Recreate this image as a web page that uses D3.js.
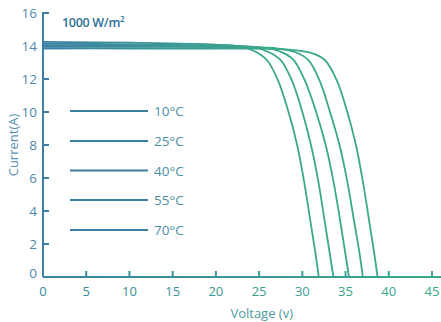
<!DOCTYPE html>
<html>
<head>
<meta charset="utf-8">
<script src="https://cdn.jsdelivr.net/npm/d3@7"></script>
<style>
  body { margin: 0; background: #fff; }
  svg { font-family: "Open Sans", Lato, sans-serif; }
</style>
</head>
<body>
<div id="vis"></div>
<script>
// Temperatures shown in the legend
const TEMPS = ["10°C", "25°C", "40°C", "55°C", "70°C"];

// I-V curves, [voltage, current]
const CURVE_10 = [[0,13.85],[10,13.85],[20,13.84],[28,13.8],[31,13.58],[32.6,13.15],[34.0,11.9],[35.2,10.0],[36.2,8.0],[37.0,5.8],[37.7,3.5],[38.3,1.5],[38.7,0]];
const CURVE_25 = [[0,13.95],[10,13.95],[20,13.93],[27,13.86],[29.2,13.62],[30.7,13.15],[32.0,11.9],[33.2,10.0],[34.3,8.0],[35.2,5.8],[35.95,3.5],[36.6,1.5],[37.0,0]];
const CURVE_40 = [[0,14.05],[10,14.03],[20,13.98],[25.5,13.9],[27.6,13.63],[29.0,13.15],[30.3,11.9],[31.6,10.0],[32.7,8.0],[33.6,5.8],[34.35,3.5],[34.95,1.5],[35.4,0]];
const CURVE_55 = [[0,14.15],[10,14.1],[20,14.03],[24.3,13.93],[26.1,13.64],[27.5,13.15],[28.8,11.9],[30.0,10.0],[31.0,8.0],[31.85,5.8],[32.55,3.5],[33.15,1.5],[33.6,0]];
const CURVE_70 = [[0,14.25],[10,14.2],[20,14.08],[23,13.95],[24.6,13.65],[25.9,13.15],[27.2,11.9],[28.4,10.0],[29.4,8.0],[30.2,5.8],[30.9,3.5],[31.5,1.5],[31.9,0]];
const CURVES = [CURVE_10, CURVE_25, CURVE_40, CURVE_55, CURVE_70];

const X_TICKS = [0, 5, 10, 15, 20, 25, 30, 35, 40, 45];
const Y_TICKS = [0, 2, 4, 6, 8, 10, 12, 14, 16];

const FRAME_WIDTH = 441;
const FRAME_HEIGHT = 322;
const MARGINS = {left: 43, top: 13, bottom: 45};

const BLUE = "#3b80a4";
const GREEN = "#3aa98a";

const svg = d3.select("#vis")
  .append("svg")
  .attr("width", FRAME_WIDTH)
  .attr("height", FRAME_HEIGHT);

// scales
const X_SCALE = d3.scaleLinear().domain([0, 45]).range([MARGINS.left, 432]);
const Y_SCALE = d3.scaleLinear().domain([0, 16]).range([FRAME_HEIGHT - MARGINS.bottom, MARGINS.top]);

// colour drift from blue (left) to green (right)
const mix = d3.interpolateRgb(BLUE, GREEN);
const colAt = (px) => mix(Math.min(1, px / FRAME_WIDTH));

const defs = svg.append("defs");
const grad = defs.append("linearGradient")
  .attr("id", "axisGrad")
  .attr("gradientUnits", "userSpaceOnUse")
  .attr("x1", 0).attr("x2", FRAME_WIDTH).attr("y1", 0).attr("y2", 0);
grad.append("stop").attr("offset", "0%").attr("stop-color", BLUE);
grad.append("stop").attr("offset", "100%").attr("stop-color", GREEN);

const curveGrad = defs.append("linearGradient")
  .attr("id", "curveGrad")
  .attr("gradientUnits", "userSpaceOnUse")
  .attr("x1", 40).attr("x2", 270).attr("y1", 0).attr("y2", 0);
curveGrad.append("stop").attr("offset", "0%").attr("stop-color", BLUE);
curveGrad.append("stop").attr("offset", "100%").attr("stop-color", GREEN);

// curves
const line = d3.line()
  .x(d => X_SCALE(d[0]))
  .y(d => Y_SCALE(d[1]))
  .curve(d3.curveCatmullRom.alpha(0.5));

svg.append("g").selectAll("path")
  .data(CURVES)
  .join("path")
  .attr("d", line)
  .attr("fill", "none")
  .attr("stroke", "url(#curveGrad)")
  .attr("stroke-width", 1.8);

// X axis
const y0 = Y_SCALE(0);
svg.append("line")
  .attr("x1", MARGINS.left).attr("x2", FRAME_WIDTH)
  .attr("y1", y0).attr("y2", y0)
  .attr("stroke", "url(#axisGrad)").attr("stroke-width", 2);

svg.append("g").selectAll("line")
  .data(X_TICKS.slice(1))
  .join("line")
  .attr("x1", d => X_SCALE(d)).attr("x2", d => X_SCALE(d))
  .attr("y1", y0).attr("y2", y0 - 6)
  .attr("stroke", d => colAt(X_SCALE(d))).attr("stroke-width", 2);

svg.append("g").selectAll("text")
  .data(X_TICKS)
  .join("text")
  .attr("x", d => X_SCALE(d))
  .attr("y", y0 + 19)
  .attr("text-anchor", "middle")
  .attr("font-size", "13px")
  .attr("fill", d => colAt(X_SCALE(d) + 30))
  .text(d => d);

// Y axis
svg.append("line")
  .attr("x1", MARGINS.left).attr("x2", MARGINS.left)
  .attr("y1", Y_SCALE(16) - 1).attr("y2", y0)
  .attr("stroke", BLUE).attr("stroke-width", 2);

svg.append("g").selectAll("line")
  .data(Y_TICKS.slice(1))
  .join("line")
  .attr("x1", MARGINS.left).attr("x2", MARGINS.left + 6)
  .attr("y1", d => Y_SCALE(d)).attr("y2", d => Y_SCALE(d))
  .attr("stroke", BLUE).attr("stroke-width", 2);

svg.append("g").selectAll("text")
  .data(Y_TICKS)
  .join("text")
  .attr("x", 37)
  .attr("y", d => d === 0 ? Y_SCALE(d) + 1 : Y_SCALE(d) + 5)
  .attr("text-anchor", "end")
  .attr("font-size", "13.5px")
  .attr("fill", "#4f88ab")
  .text(d => d);

// axis titles
svg.append("text")
  .attr("transform", "translate(18," + Y_SCALE(8) + ") rotate(-90)")
  .attr("text-anchor", "middle")
  .attr("font-size", "13px")
  .attr("fill", "#5a90b2")
  .text("Current(A)");

svg.append("text")
  .attr("x", X_SCALE(25.3))
  .attr("y", 318)
  .attr("text-anchor", "middle")
  .attr("font-size", "13px")
  .attr("fill", "#4f9aa0")
  .text("Voltage (v)");

svg.append("text")
  .attr("x", 62)
  .attr("y", 27)
  .attr("font-size", "12.5px")
  .attr("font-weight", "600")
  .attr("fill", "#2f7194")
  .attr("letter-spacing", "-0.3")
  .html("1000 W/m<tspan font-size='8' dy='-5'>2</tspan>");

// legend
const LEG_Y = [111, 141, 170.5, 200, 230];
const legend = svg.append("g").selectAll("g")
  .data(TEMPS)
  .join("g")
  .attr("transform", (d, i) => "translate(0," + LEG_Y[i] + ")");

legend.append("line")
  .attr("x1", 70).attr("x2", 148)
  .attr("stroke", "#3a7f9f").attr("stroke-width", 1.8);

legend.append("text")
  .attr("x", 154)
  .attr("y", 5)
  .attr("font-size", "13.5px")
  .attr("fill", "#4b8fa5")
  .text(d => d);
</script>
</body>
</html>
